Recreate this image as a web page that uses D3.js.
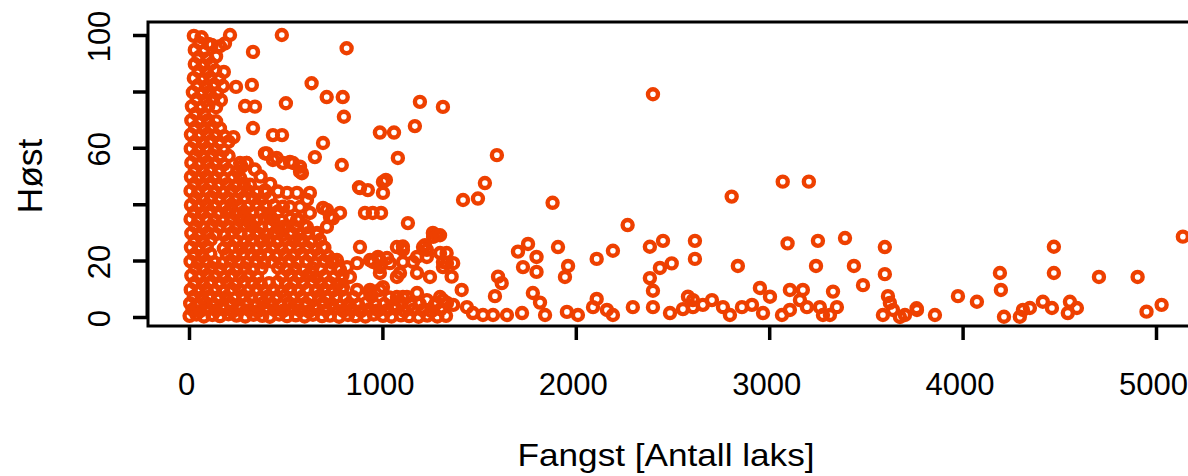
<!DOCTYPE html>
<html><head><meta charset="utf-8">
<script src="https://cdn.jsdelivr.net/npm/d3@7/dist/d3.min.js"></script>
<style>body{margin:0;background:#fff}svg{display:block}</style>
</head><body>
<svg id="c" width="1188" height="476"></svg>
<script>
// ---- data: [Fangst (antall laks), Høst] ----
const xTicks = [0, 1000, 2000, 3000, 4000, 5000];
const yTicks = [0, 20, 40, 60, 80, 100];
const yTickLabels = [0, 20, 60, 100];
const xTitle = "Fangst [Antall laks]";
const yTitle = "Høst";

const pointsLow = [
[3,0.4],[38,0.9],[77,0.2],[121,0.7],[160,0.3],[204,1.0],[246,0.5],[291,0.2],[333,0.8],[379,0.4],[418,0.1],[466,0.9],[507,0.3],[552,0.6],[598,0.2],[641,0.8],[688,0.3],[729,0.5],[776,0.1],[822,0.7],[861,0.3],[912,0.2],[955,0.9],[1003,0.4],[1047,0.2],[1096,0.6],[1138,0.3],[1187,0.1],[1232,0.5],[1284,0.2],[1329,0.4],
[18,2.6],[57,2.1],[99,2.9],[141,2.3],[183,2.7],[226,2.0],[268,2.8],[312,2.4],[357,2.1],[398,2.9],[441,2.5],[487,2.2],[531,2.8],[574,2.3],[619,2.0],[663,2.7],[707,2.4],[751,2.9],[798,2.2],[843,2.6],[889,2.1],[933,2.8],[978,2.3],[1026,2.5],[1069,2.9],[1114,2.2],[1161,2.6],[1208,2.4],[1254,2.1],[1301,2.7],
[6,4.8],[44,4.3],[86,5.0],[128,4.5],[171,4.1],[213,4.9],[257,4.4],[300,4.7],[343,4.2],[386,5.1],[430,4.6],[474,4.3],[517,4.9],[560,4.4],[604,4.8],[650,4.2],[694,5.0],[739,4.5],[781,4.1],[828,4.7],[874,4.4],[917,5.0],[962,4.3],[1010,4.6],[1058,4.1],[1100,4.9],[1146,4.4],[1193,4.7],[1270,4.2],
[25,7.2],[66,6.8],[108,7.4],[150,6.9],[193,7.1],[236,6.6],[279,7.5],[322,7.0],[366,6.7],[409,7.3],[452,6.9],[496,7.4],[540,6.8],[583,7.1],[627,6.6],[672,7.3],[716,6.9],[760,7.2],[806,6.8],[850,7.0],[944,7.3],[1037,6.9],
[9,9.7],[50,9.2],[91,9.8],[134,9.4],[177,9.1],[219,9.9],[262,9.5],[306,9.2],[349,9.8],[392,9.3],[436,9.6],[479,9.1],[523,9.9],[566,9.4],[611,9.7],[655,9.2],[700,9.8],[744,9.3],[790,9.6],
[30,12.1],[72,11.7],[114,12.4],[156,11.9],[198,12.2],[241,11.6],[284,12.5],[328,12.0],[371,11.8],[414,12.0],[458,12.3],[501,11.7],[545,12.2],[590,11.9],[634,12.4],[680,11.8],[724,12.1],[768,11.6],
[12,14.7],[53,14.2],[95,14.9],[137,14.4],[180,14.1],[222,14.8],[265,14.3],[308,14.6],[352,14.2],[482,14.5],[526,14.9],[569,14.3],[613,14.7],[658,14.1],[702,14.6],[748,14.2],[794,14.8],
[33,17.2],[75,16.8],[117,17.4],[160,16.9],[203,17.1],[245,16.7],[288,17.3],[331,16.9],[374,17.2],[461,17.4],[505,16.8],[548,17.1],[592,16.7],[638,17.3],[683,16.9],[728,17.2],[773,16.8],
[8,19.7],[47,19.2],[89,19.8],[131,19.4],[174,19.1],[216,19.9],[258,19.5],[301,19.2],[345,19.8],[388,19.3],[431,19.6],[475,19.1],[519,19.9],[562,19.4],[606,19.7],[651,19.2],[697,19.8],[742,19.3],
[28,22.1],[69,21.7],[110,22.4],[195,22.2],[238,21.6],[281,22.5],[324,22.0],[367,21.8],[410,22.3],[453,21.7],[497,22.2],[540,21.9],[584,22.4],[628,21.8],[672,22.1],[718,21.6]
];

const pointsMid = [
[10,24.7],[50,24.2],[92,24.9],[180,24.3],[222,24.8],[264,24.4],[306,24.6],[349,24.1],[392,24.9],[435,24.5],[478,24.2],[521,24.8],[565,24.3],[610,24.7],[655,24.1],[700,24.6],
[30,27.2],[70,26.8],[112,27.4],[200,26.9],[243,27.1],[286,26.6],[328,27.3],[371,26.9],[414,27.2],[457,26.7],[500,27.4],[544,26.9],[588,27.1],[632,26.6],[677,27.3],
[12,29.7],[52,29.2],[95,29.8],[138,29.4],[181,29.1],[224,29.9],[267,29.5],[310,29.2],[353,29.8],[396,29.3],[440,29.6],[484,29.1],[527,29.9],[571,29.4],[616,29.7],[660,29.2],
[33,32.1],[74,31.7],[116,32.4],[158,31.9],[201,32.2],[244,31.6],[287,32.5],[330,32.0],[373,31.8],[417,32.3],[460,31.7],[505,32.2],[550,31.9],[596,32.4],
[8,34.7],[48,34.2],[90,34.9],[132,34.4],[175,34.1],[218,34.8],[262,34.3],[305,34.6],[348,34.2],[391,34.9],[436,34.5],[480,34.1],[524,34.8],[568,34.3],
[27,37.2],[68,36.8],[110,37.4],[152,36.9],[195,37.1],[240,36.6],[284,37.3],[328,36.9],[372,37.2],[416,36.7],[460,37.4],
[10,39.7],[50,39.2],[92,39.8],[134,39.4],[177,39.1],[220,39.9],[263,39.5],[306,39.2],[350,39.8],[395,39.3],[440,39.6],[486,39.1],
[32,42.1],[73,41.7],[115,42.4],[157,41.9],[200,42.2],[243,41.6],[286,42.5],[330,42.0],[375,41.8],[420,42.3],
[8,44.7],[48,44.2],[90,44.9],[133,44.4],[176,44.1],[219,44.8],[262,44.3],[306,44.6],[351,44.2],[393,44.9],[460,44.5],
[28,47.2],[70,46.8],[112,47.4],[154,46.9],[197,47.1],[240,46.6],[283,47.3],[315,46.9],[420,47.2],
[10,49.7],[50,49.2],[92,49.8],[135,49.4],[178,49.1],[227,49.6],[265,49.3],[370,49.8],
[30,52.1],[72,51.7],[113,52.4],[156,51.9],[200,52.2],[250,51.6],[340,52.3],
[12,54.7],[52,54.2],[94,54.9],[137,54.4],[180,54.1],[264,54.6],[298,54.6],[272,53.3],
[33,57.2],[75,56.8],[118,57.4],[160,56.9],[205,57.1]
];

const pointsHigh = [
[9,59.7],[50,59.2],[92,59.8],[135,59.4],[178,59.1],
[30,62.1],[72,61.7],[114,62.4],[157,61.9],[205,62.2],
[10,64.7],[52,64.2],[95,64.9],[138,64.4],[182,64.1],[230,63.8],
[32,67.2],[76,66.8],[118,67.4],[160,66.9],
[12,69.7],[55,69.2],[98,69.8],[140,69.4],
[35,72.1],[78,71.7],
[15,74.7],[60,74.2],[100,74.9],[140,74.4],
[40,77.2],[85,76.8],[125,77.4],[165,76.9],
[20,79.7],[65,79.2],[105,79.8],[145,79.4],
[45,82.1],[88,81.7],[130,82.4],[175,81.9],
[25,84.7],[70,84.2],[110,84.9],[155,84.4],
[50,87.2],[92,86.8],[135,87.4],[180,86.9],
[30,89.7],[72,89.2],[115,89.8],
[50,92.1],[95,91.7],[140,92.4],
[30,94.7],[75,94.2],
[55,97.2],[100,96.8],[160,96.0],[117,96.5],[186,97.0],
[25,99.7],[65,99.2]
];

const pointsSpread = [
[212,100],[480,100],[815,95.3],[331,94],[243,81.6],[325,82.3],[634,82.9],[712,78],[795,78],[801,71],[290,74.8],[341,74.6],[501,75.8],[1194,76.3],[1313,74.5],[1168,67.7],[987,65.4],[1060,65.4],[693,61.7],[331,67],[1080,56.4],[651,56.7],[790,53.9],[1592,57.4],[884,45.7],[1003,47.9],[1003,44],[910,36.9],[950,36.9],[993,36.9],[1132,33.3],[1262,28.4],[1210,24.8],[884,24.8],
[393,58],[434,55.7],[486,54.6],[538,54.6],[584,51],[507,44],[558,44],[625,44],[393,44],[351,44],[522,39],[574,39],[693,38.7],[729,35.5],[781,36.9],[212,38],[279,35.5],[315,33.3],[558,34.4],[610,31.9],[662,29.8],[693,24.8],[574,27.3],[522,29.8],[486,31.9],[419,35.5],[455,29.8],[383,27.3],
[402,58],[453,56.4],[522,55],[574,53.3],[298,54.6],[434,64.5],[481,64.5],
[879,46],[925,45],[1018,48.6],[574,51.5],[713,38],[744,35],[713,32],[610,41.5],[625,36.9],
[765,20.2],[817,17.7],[869,19.1],[936,20.2],[987,20.2],[1039,19.1],[1106,23.8],[1179,21.3],[1230,23.8],[1298,22.7],[1334,19.1],[1261,29.8],[977,21.3],[1075,24.8],[987,17.7],[1075,14.2],[1179,15.6],[1246,14.2],[1313,17.7],[1127,7.1],[1179,8.5],[1230,6],[1282,5],[1313,6],[936,9.6],[1003,10.6],[1075,7.1],
[1106,25],[1220,25.5],[1282,29],[951,19.5],[1024,20.9],[1106,19.5],[1158,19.5],[1230,21.3],[1313,19.5],[987,15.6],[1091,15.6],[636,15.6],[744,20.2],[781,16.7],[832,14.2],[729,12],[796,10.6],[662,9.6],[713,7.1],[869,9.6],[936,8.5],[987,9.6],[1106,7.1],[1298,7.1],[1334,5]
];

const pointsFar = [
[2399,79],[1530,47.5],[1494,42],[1417,41.5],[1880,40.5],[2268,32.6],[1298,29],[1753,25.9],[1701,23.2],[1908,24.8],[2192,23.5],[2383,24.9],[2451,27],[2616,27],[2108,20.6],[2496,19],[2435,17.4],[2616,20.6],[1332,22.7],[1366,19.1],[1797,21.3],[1797,16],[1960,18.1],[1944,14.2],[1727,17.7],[1598,14.3],[1617,12],[2383,13.8],[2399,9.3],[1358,14.3],[1410,9.6],[1582,7.4],[1778,8.5],[1815,5.1],[2108,6.4],[2580,7.2],
[1366,4.3],[1437,3.5],[1468,1.4],[1520,0.7],[1572,0.7],[1644,0.7],[1722,1.4],[1841,0.7],[1954,1.8],[2011,0.7],[2089,3.5],[2161,2.5],[2192,0.7],[2295,3.5],[2399,3.5],[2487,1.4],[2554,2.8],[2606,3.5],
[2806,42.7],[3070,48],[3205,48],[2838,18.1],[3095,26.1],[3252,27],[3392,28],[3598,24.8],[3242,18.1],[3438,18.1],[3598,15.2],[3485,11.3],[3614,7.4],[3764,2.5],[2952,10.3],[3004,7.2],[3107,9.6],[3174,9.6],[3330,9],
[2606,6],[2657,4.3],[2704,6],[2761,3.5],[2797,0.7],[2859,3.5],[2911,4.3],[2968,1.4],[3066,0.7],[3107,2.5],[3159,6],[3195,3.5],[3262,3.5],[3278,0.7],[3314,0.7],[3350,3.5],[3588,0.7],[3640,2.5],[3676,0],[3624,5],
[3702,0.7],[3762,3.1],[3857,0.7],[3976,7.4],[4074,5.4],[4193,15.6],[4198,9.6],[4214,0.1],[4312,2.5],[4348,3.2],[4296,0.1],[4415,5.4],[4462,3.2],[4472,24.9],[4472,15.6],[4555,5.4],[4591,3.2],[4544,1.4],[4705,14.2],[4905,14.2],[4951,1.9],[5029,4.3],[5139,28.5]
];

const allPoints = [].concat(pointsLow, pointsMid, pointsHigh, pointsSpread, pointsFar);

// ---- drawing ----
const svg = d3.select("#c");
const x = d3.scaleLinear().domain([0, 5000]).range([189, 1156]);
const y = d3.scaleLinear().domain([0, 100]).range([317, 35]);
const boxL = 148, boxT = 22, boxB = 326, boxR = 1260;
const col = "#EE4000";
const font = "'Liberation Sans', Arial, Helvetica, sans-serif";

const defs = svg.append("defs");
defs.append("clipPath").attr("id","plotclip")
  .append("rect").attr("x", boxL).attr("y", boxT).attr("width", boxR-boxL).attr("height", boxB-boxT);
defs.append("clipPath").attr("id","ylabclip")
  .append("rect").attr("x", -300).attr("y", 11.5).attr("width", 600).attr("height", 460);

svg.append("g").attr("clip-path","url(#plotclip)")
  .selectAll("circle").data(allPoints).join("circle")
  .attr("cx", d => x(d[0])).attr("cy", d => y(d[1]))
  .attr("r", 5).attr("fill","none").attr("stroke", col).attr("stroke-width", 4.4);

// box
svg.append("rect").attr("x", boxL).attr("y", boxT).attr("width", boxR-boxL).attr("height", boxB-boxT)
  .attr("fill","none").attr("stroke","#000").attr("stroke-width",3);

// x axis
const gx = svg.append("g").attr("transform", `translate(0,${boxB})`)
  .call(d3.axisBottom(x).tickValues(xTicks).tickSize(14).tickSizeOuter(0).tickFormat(d3.format("d")));
gx.select(".domain").remove();
gx.selectAll(".tick line").attr("stroke","#000").attr("stroke-width",3.5);
gx.selectAll(".tick text").attr("y", 69).attr("dy", null).attr("x", -3)
  .attr("font-family", font).attr("font-size", 31).attr("fill","#000");

// y axis
const gy = svg.append("g").attr("transform", `translate(${boxL},0)`).attr("clip-path","url(#ylabclip)")
  .call(d3.axisLeft(y).tickValues(yTicks).tickSize(15).tickSizeOuter(0)
    .tickFormat(d => yTickLabels.includes(d) ? String(d) : ""));
gy.select(".domain").remove();
gy.selectAll(".tick line").attr("stroke","#000").attr("stroke-width",3.5);
gy.selectAll(".tick text").attr("transform","rotate(-90)").attr("x", -1).attr("y", -38).attr("dy", null)
  .attr("text-anchor","middle").attr("font-family", font).attr("font-size", 31).attr("fill","#000");
svg.append("line").attr("x1", boxL-1).attr("x2", boxL-1).attr("y1", y(100)).attr("y2", y(0))
  .attr("stroke","#000").attr("stroke-width",3);

// titles
svg.append("text").attr("x", 666).attr("y", 466).attr("text-anchor","middle")
  .attr("font-family", font).attr("font-size", 32).attr("textLength", 297).attr("lengthAdjust","spacingAndGlyphs")
  .text(xTitle);
svg.append("text").attr("transform", "translate(42,176) rotate(-90)").attr("text-anchor","middle")
  .attr("font-family", font).attr("font-size", 35).attr("textLength", 75).attr("lengthAdjust","spacingAndGlyphs")
  .text(yTitle);
</script>
</body></html>
